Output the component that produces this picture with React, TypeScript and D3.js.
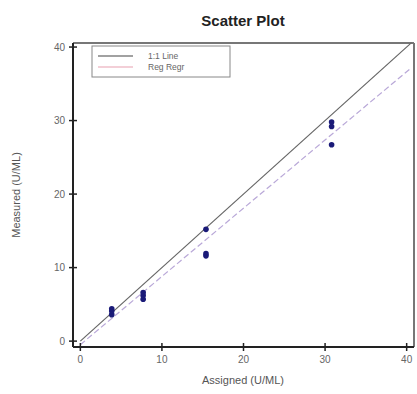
import React from "react";
import * as d3 from "d3";

const assigned = [3.85, 3.85, 3.85, 7.7, 7.7, 7.7, 15.4, 15.4, 15.4, 30.8, 30.8, 30.8];
const measured = [3.6, 4.1, 4.4, 5.7, 6.2, 6.6, 15.2, 11.6, 11.9, 26.7, 29.2, 29.8];
const xTicks = [0, 10, 20, 30, 40];
const yTicks = [0, 10, 20, 30, 40];
const legendLabels = ["1:1 Line", "Reg Regr"];

export default function App() {
  const W = 417, H = 394;
  const left = 73, right = 414, top = 43, bottom = 347;
  const x = d3.scaleLinear().domain([-0.9, 40.9]).range([left, right]);
  const y = d3.scaleLinear().domain([-0.8, 40.55]).range([bottom, top]);

  // regression
  const mx = d3.mean(assigned)!;
  const my = d3.mean(measured)!;
  const slope =
    d3.sum(assigned.map((a, i) => (a - mx) * (measured[i] - my))) /
    d3.sum(assigned.map((a) => (a - mx) ** 2));
  const icpt = my - slope * mx;
  const line = d3.line<number>().x((v) => x(v)).y((v) => y(v));
  const line11 = line([0, 40.6]);
  const regLine = d3
    .line<number>()
    .x((v) => x(v))
    .y((v) => y(icpt + slope * v))([0, 40.6]);

  const font = "Arial, 'Liberation Sans', sans-serif";
  return (
    <svg width={W} height={H} style={{ position: "absolute", left: 0, top: 0 }}>
      <rect width={W} height={H} fill="#fff" />
      <text x={243} y={26} textAnchor="middle" fontFamily={font} fontWeight="bold" fontSize={15} fill="#222">
        Scatter Plot
      </text>
      {/* frame */}
      <line x1={left} x2={right} y1={top} y2={top} stroke="#777" strokeWidth={2} />
      <line x1={right} x2={right} y1={top} y2={bottom} stroke="#777" strokeWidth={2} />
      {/* lines */}
      <path d={line11 || ""} stroke="#666" strokeWidth={1.2} fill="none" />
      <path d={regLine || ""} stroke="#b9a8d8" strokeWidth={1.2} strokeDasharray="6,3" fill="none" />
      {/* points */}
      {assigned.map((a, i) => (
        <circle key={i} cx={x(a)} cy={y(measured[i])} r={2.8} fill="#1a1a78" />
      ))}
      {/* axes */}
      <line x1={left} x2={right} y1={bottom} y2={bottom} stroke="#222" strokeWidth={2} />
      <line x1={left} x2={left} y1={top} y2={bottom} stroke="#222" strokeWidth={2} />
      {xTicks.map((t) => (
        <g key={t}>
          <line x1={x(t)} x2={x(t)} y1={bottom - 4} y2={bottom + 4} stroke="#222" strokeWidth={1.5} />
          <text x={x(t)} y={bottom + 16} textAnchor="middle" fontFamily={font} fontSize={10} fill="#666">
            {t}
          </text>
        </g>
      ))}
      {yTicks.map((t) => (
        <g key={t}>
          <line x1={left - 4} x2={left + 4} y1={y(t)} y2={y(t)} stroke="#222" strokeWidth={1.5} />
          <text x={left - 8} y={y(t) + 3.5} textAnchor="end" fontFamily={font} fontSize={10} fill="#666">
            {t}
          </text>
        </g>
      ))}
      <text x={243} y={384} textAnchor="middle" fontFamily={font} fontSize={11} fill="#555">
        Assigned (U/ML)
      </text>
      <text
        transform={`translate(20,195) rotate(-90)`}
        textAnchor="middle"
        fontFamily={font}
        fontSize={11}
        fill="#555"
      >
        Measured (U/ML)
      </text>
      {/* legend */}
      <rect x={92} y={46} width={138} height={31} fill="#fff" stroke="#888" strokeWidth={1} />
      <line x1={98} x2={133} y1={56} y2={56} stroke="#444" strokeWidth={1.2} />
      <line x1={98} x2={133} y1={67} y2={67} stroke="#e8a0b0" strokeWidth={1.2} />
      <text x={148} y={59} fontFamily={font} fontSize={8.5} fill="#666">
        {legendLabels[0]}
      </text>
      <text x={148} y={70} fontFamily={font} fontSize={8.5} fill="#666">
        {legendLabels[1]}
      </text>
    </svg>
  );
}
